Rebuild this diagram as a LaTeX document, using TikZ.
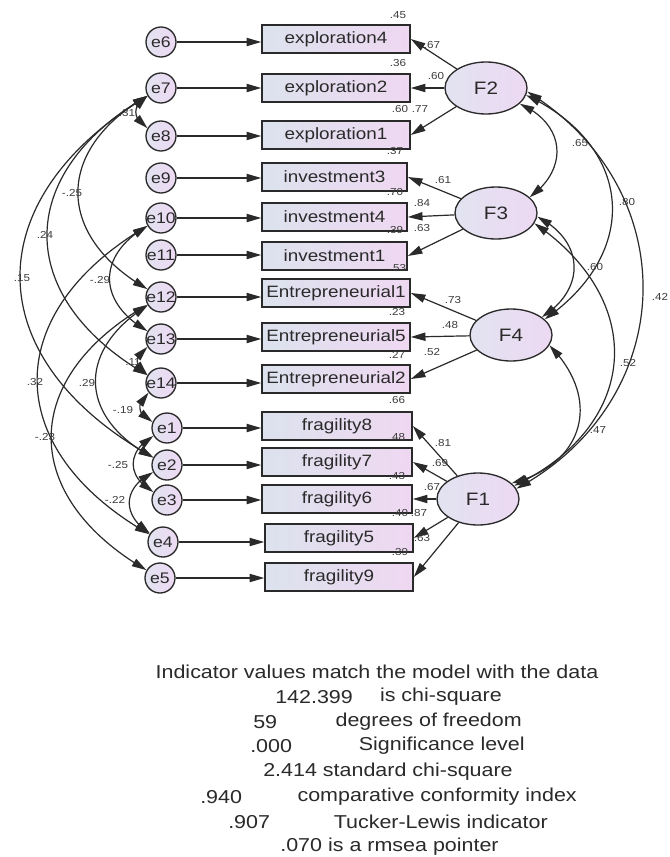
\documentclass[tikz,border=0pt]{standalone}
\usepackage{fontspec}
\setmainfont[FakeStretch=1.15]{Liberation Sans}
\usetikzlibrary{arrows.meta,shapes.geometric,bending}

\definecolor{boxL}{HTML}{DCE2EE}
\definecolor{boxR}{HTML}{EFD8F1}
\definecolor{errL}{HTML}{E2E3F1}
\definecolor{errR}{HTML}{EDD9F2}
\definecolor{ink}{HTML}{2A2A2A}
\definecolor{lblc}{HTML}{3C3C3C}

\newcommand\ename[1]{\makebox[0pt][c]{#1}}

\tikzset{
  >={Triangle[length=11pt,width=6.2pt]},
  indbox/.style={draw=ink, line width=1.2pt, rectangle, minimum width=111pt,
    minimum height=21pt, inner sep=0pt, left color=boxL, right color=boxR,
    font=\fontsize{12.3}{14}\selectfont, text=ink},
  errnode/.style={draw=ink, line width=1pt, circle, minimum size=22.5pt,
    inner sep=0pt, left color=errL, right color=errR,
    font=\fontsize{11.5}{13}\selectfont, text=ink},
  factor/.style={draw=ink, line width=1pt, ellipse, minimum width=61.5pt,
    minimum height=39pt, inner sep=0pt, left color=errL, right color=errR,
    font=\fontsize{13.5}{15}\selectfont, text=ink},
  reg/.style={->, line width=0.9pt, draw=ink},
  cov/.style={<->, line width=0.9pt, draw=ink},
  errarc/.style={cov, bend right=60, looseness=1.42},
  facarc/.style={cov, bend left=60, looseness=1.35},
  lab/.style={font=\fontsize{7.6}{9}\selectfont, text=lblc, inner sep=0pt},
  note/.style={font=\fontsize{14}{16}\selectfont, text=ink, inner sep=0pt},
}

\begin{document}
\begin{tikzpicture}[x=0.75pt, y=-0.75pt]
\useasboundingbox[fill=white] (0,0) rectangle (669,857);

% latent factors
\node[factor] (F2) at (486,88)  {F2};
\node[factor] (F3) at (496,213) {F3};
\node[factor] (F4) at (511,335) {F4};
\node[factor] (F1) at (478,499) {F1};

% observed indicators
\node[indbox] (x4) at (336,39)  {exploration4};
\node[indbox] (x2) at (336,88)  {exploration2};
\node[indbox] (x1) at (336,135) {exploration1};
\node[indbox, minimum width=108.75pt] (i3) at (334.5,177) {investment3};
\node[indbox, minimum width=108.75pt] (i4) at (334.5,217) {investment4};
\node[indbox, minimum width=108.75pt] (i1) at (334.5,256) {investment1};
\node[indbox] (n1) at (336,293) {Entrepreneurial1};
\node[indbox] (n5) at (336,337) {Entrepreneurial5};
\node[indbox] (n2) at (336,379) {Entrepreneurial2};
\node[indbox, minimum width=112.5pt] (g8) at (337,426) {fragility8};
\node[indbox, minimum width=112.5pt] (g7) at (337,462) {fragility7};
\node[indbox, minimum width=112.5pt] (g6) at (337,499) {fragility6};
\node[indbox] (g5) at (339,538) {fragility5};
\node[indbox] (g9) at (339,577) {fragility9};

% error terms
\node[errnode] (e6)  at (161,42)  {\ename{e6}};
\node[errnode] (e7)  at (161,88)  {\ename{e7}};
\node[errnode] (e8)  at (161,136) {\ename{e8}};
\node[errnode] (e9)  at (161,178) {\ename{e9}};
\node[errnode] (e10) at (161,218) {\ename{e10}};
\node[errnode] (e11) at (161,255) {\ename{e11}};
\node[errnode] (e12) at (161,297) {\ename{e12}};
\node[errnode] (e13) at (161,339) {\ename{e13}};
\node[errnode] (e14) at (161,383) {\ename{e14}};
\node[errnode] (e1)  at (167,428) {\ename{e1}};
\node[errnode] (e2)  at (167,465) {\ename{e2}};
\node[errnode] (e3)  at (167,500) {\ename{e3}};
\node[errnode] (e4)  at (163,542) {\ename{e4}};
\node[errnode] (e5)  at (160,578) {\ename{e5}};

% error -> indicator
\foreach \e/\b in {e6/x4, e7/x2, e8/x1, e9/i3, e10/i4, e11/i1, e12/n1,
                   e13/n5, e14/n2, e1/g8, e2/g7, e3/g6, e4/g5, e5/g9}
  \draw[reg] (\e) -- (\e -| \b.west);

% factor -> indicator
\foreach \b in {x4, x2, x1} \draw[reg] (F2) -- (\b.east);
\foreach \b in {i3, i4, i1} \draw[reg] (F3) -- (\b.east);
\foreach \b in {n1, n5, n2} \draw[reg] (F4) -- (\b.east);
\foreach \b in {g8, g7, g6, g5, g9} \draw[reg] (F1) -- (\b.east);

% factor covariances
\draw[facarc] (F2.-25) to (F3.25);
\draw[facarc] (F2.-10) to (F4.25);
\draw[facarc, looseness=1.2] (F2.-5) to (F1.15);
\draw[facarc] (F3.-5) to (F4.30);
\draw[facarc] (F3.-15) to (F1.20);
\draw[facarc] (F4.-15) to (F1.25);

% error covariances
\draw[errarc] (e7) to (e8);
\draw[errarc] (e7) to (e12);
\draw[errarc] (e7) to (e14);
\draw[errarc] (e7) to (e2);
\draw[errarc] (e10) to (e13);
\draw[errarc] (e10) to (e4);
\draw[errarc] (e12) to (e2);
\draw[errarc] (e12) to (e5);
\draw[errarc] (e13) to (e14);
\draw[errarc] (e14) to (e1);
\draw[errarc] (e1) to (e3);
\draw[errarc] (e2) to (e4);

% squared multiple correlations
\node[lab] (s1)  at (398,15)  {.45};
\node[lab] (s2)  at (398,63)  {.36};
\node[lab] (s3)  at (400,109) {.60};
\node[lab] (s4)  at (395,151) {.37};
\node[lab] (s5)  at (395,192) {.70};
\node[lab] (s6)  at (395,230) {.39};
\node[lab] (s7)  at (398,268) {.53};
\node[lab] (s8)  at (397,312) {.23};
\node[lab] (s9)  at (397,355) {.27};
\node[lab] (s10) at (397,400) {.66};
\node[lab] (s11) at (397,437) {.48};
\node[lab] (s12) at (397,476) {.43};
\node[lab] (s13) at (400,513) {.40};
\node[lab] (s14) at (400,552) {.39};

% standardized loadings
\node[lab] (l1)  at (432,45)  {.67};
\node[lab] (l2)  at (436,76)  {.60};
\node[lab] (l3)  at (420,109) {.77};
\node[lab] (l4)  at (443,180) {.61};
\node[lab] (l5)  at (422,203) {.84};
\node[lab] (l6)  at (422,228) {.63};
\node[lab] (l7)  at (453,300) {.73};
\node[lab] (l8)  at (450,325) {.48};
\node[lab] (l9)  at (432,352) {.52};
\node[lab] (l10) at (443,443) {.81};
\node[lab] (l11) at (440,463) {.69};
\node[lab] (l12) at (432,487) {.67};
\node[lab] (l13) at (419,513) {.87};
\node[lab] (l14) at (422,538) {.63};

% error covariance values
\node[lab] (c1)  at (127,113) {.31};
\node[lab] (c2)  at (72,193)  {-.25};
\node[lab] (c3)  at (45,235)  {.24};
\node[lab] (c4)  at (22,278)  {.15};
\node[lab] (c5)  at (100,280) {-.29};
\node[lab] (c6)  at (35,382)  {.32};
\node[lab] (c7)  at (87,383)  {.29};
\node[lab] (c8)  at (45,437)  {-.23};
\node[lab] (c9)  at (133,362) {.11};
\node[lab] (c10) at (123,410) {-.19};
\node[lab] (c11) at (118,465) {-.25};
\node[lab] (c12) at (115,500) {-.22};

% factor correlations
\node[lab] (r1) at (580,143) {.65};
\node[lab] (r2) at (627,202) {.80};
\node[lab] (r3) at (595,267) {.60};
\node[lab] (r4) at (660,297) {.42};
\node[lab] (r5) at (628,363) {.52};
\node[lab] (r6) at (598,430) {.47};

% fit summary
\node[note] (t1) at (377,672) {Indicator values match the model with the data};
\node[note, anchor=west] (t2a) at (275,697) {142.399};
\node[note, anchor=east] (t2b) at (502,697) {is chi-square};
\node[note, anchor=west] (t3a) at (253,722) {59};
\node[note, anchor=east] (t3b) at (522,722) {degrees of freedom};
\node[note, anchor=west] (t4a) at (250,746) {.000};
\node[note, anchor=east] (t4b) at (525,746) {Significance level};
\node[note] (t5) at (388,772) {2.414 standard chi-square};
\node[note, anchor=west] (t6a) at (200,797) {.940};
\node[note, anchor=east] (t6b) at (577,797) {comparative conformity index};
\node[note, anchor=west] (t7a) at (228,822) {.907};
\node[note, anchor=east] (t7b) at (548,822) {Tucker-Lewis indicator};
\node[note] (t8) at (389.5,847) {.070 is a rmsea pointer};
\end{tikzpicture}
\end{document}
